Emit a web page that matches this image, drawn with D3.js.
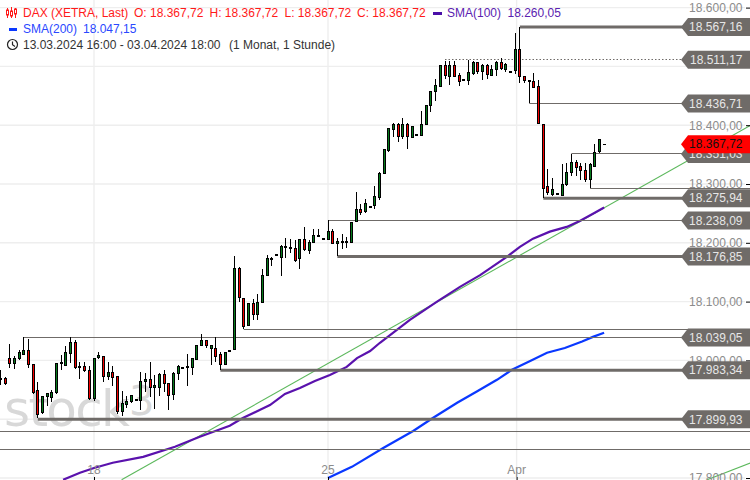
<!DOCTYPE html>
<html><head><meta charset="utf-8">
<script src="https://cdnjs.cloudflare.com/ajax/libs/d3/7.8.5/d3.min.js"></script>
<style>html,body{margin:0;padding:0;background:#fff;overflow:hidden}svg{display:block;font-family:"Liberation Sans",Arial,sans-serif}</style>
</head><body><svg id="c" width="750" height="480"></svg>
<script>
// hourly candles, the first one is 20 bars before the "18" tick
const firstBar = -20;
const opens = [17969,17970,18003,17995,18003,18010,18016,17993,17948,17910,17938,17937,17944,17994,17991,18012,18030,17987,17989,17982,
17935,18004,18007,17973,17979,17972,17913,17925,17929,17932,17932,17963,17967,17954,17954,17976,17960,17942,17977,17987,
17988,17988,18003,18025,18033,18020,18021,18010,17993,18016,18018,18156,18106,18059,18097,18078,18099,18144,18172,18179,
18174,18192,18191,18191,18172,18205,18187,18201,18212,18206,18206,18220,18199,18201,18201,18201,18236,18257,18253,18260,
18262,18277,18318,18357,18393,18401,18381,18401,18380,18384,18384,18401,18433,18457,18467,18502,18484,18502,18485,18476,
18476,18488,18506,18490,18501,18485,18495,18507,18496,18491,18492,18528,18482,18475,18475,18465,18402,18295,18283,18283,
18281,18299,18320,18337,18329,18323,18308,18330,18354,18367.72];
const closes = [17970,17961,17995,18004,18013,18016,17992,17945,17908,17938,17943,17945,17994,17996,18013,18030,17988,17989,17982,17935,
18003,18008,17973,17979,17971,17913,17926,17930,17940,17933,17964,17967,17954,17957,17976,17960,17940,17978,17989,17988,
17989,18004,18026,18033,18024,18025,18008,17993,18013,18017,18156,18106,18059,18097,18078,18099,18145,18173,18174,18180,
18193,18193,18192,18170,18205,18188,18201,18213,18213,18207,18220,18199,18202,18203,18203,18235,18256,18252,18267,18261,
18278,18318,18358,18394,18401,18381,18401,18380,18398,18385,18402,18434,18457,18468,18502,18485,18502,18484,18474,18477,
18490,18506,18491,18501,18485,18495,18507,18496,18504,18492,18528,18482,18475,18476,18465,18402,18294,18284,18291,18284,
18300,18320,18337,18329,18323,18307,18333,18354,18375,18367.72];
const highs = [17984,17972,18028,18007,18018,18040,18037,17993,17963,17940,17943,17949,17995,18009,18024,18039,18035,17998,17998,17990,
18004,18015,18008,17997,17990,17973,17948,17939,17940,17933,17980,17978,17997,17976,17978,17983,17961,17980,17993,17988,
18011,18004,18027,18045,18035,18027,18040,18015,18015,18017,18178,18158,18106,18097,18105,18113,18156,18180,18176,18180,
18197,18208,18206,18205,18207,18227,18205,18224,18224,18207,18238,18223,18208,18215,18210,18236,18286,18266,18274,18261,
18297,18320,18358,18395,18403,18403,18412,18403,18399,18385,18424,18435,18458,18479,18502,18510,18510,18510,18488,18477,
18511,18510,18508,18504,18504,18503,18510,18514,18505,18492,18556,18567,18482,18477,18488,18477,18402,18326,18310,18284,
18334,18335,18351,18341,18335,18335,18335,18368,18376,18367.72];
const lows = [17958,17959,17987,17986,18001,18010,17987,17943,17902,17909,17923,17929,17943,17983,17990,17995,17986,17969,17980,17933,
17931,18002,17964,17966,17957,17908,17905,17919,17927,17932,17915,17947,17938,17917,17940,17946,17915,17933,17966,17987,
17957,17976,18000,18024,18021,17993,17997,17984,17992,18016,18018,18099,18054,18059,18069,18068,18098,18143,18161,18179,
18143,18175,18182,18167,18156,18186,18181,18200,18210,18206,18205,18198,18177,18190,18192,18201,18235,18248,18250,18260,
18258,18272,18318,18354,18380,18372,18376,18360,18378,18384,18384,18401,18423,18441,18467,18479,18469,18483,18467,18476,
18469,18486,18487,18477,18478,18483,18483,18494,18490,18491,18487,18471,18471,18437,18463,18402,18276,18282,18280,18283,
18281,18297,18314,18314,18306,18303,18293,18330,18353,18367.72];

const sma100Bars = [-6.6,-3,0,4,10.5,17.3,22.6,29,31.8,35.5,37.6,40.8,44,47.2,50.4,54,56.2,59,61.1,67.5,73.3,78.2,82.5,88.2,91,93.8,97.4,101,103.8,107,109];
const sma100Vals = [17797,17809,17817,17826,17836,17853,17870,17889,17902,17916,17924,17943,17953,17965,17975,17989,18004,18016,18030,18069,18100,18125,18145,18176,18193,18207,18219,18227,18237,18251,18260];
const sma200Bars = [50,55.1,61.8,68.2,72.4,77.6,81.8,86.1,89.3,93.2,96.8,100.6,104.3,106.6,109];
const sma200Vals = [17800,17819,17851,17880,17902,17928,17947,17967,17984,17999,18013,18021,18032,18040,18047];

const heavyLevels = [18567.16,18275.94,18176.85,17983.34,17899.93];
const heavyStarts = [91,96,52,27,-12];
const thinLevels = [18436.71,18351.03,18293,18238.09,18053,18039.05,17879,17849];
const thinStarts = [93,102,106,50,32,-15,-21,-21];
const dottedLevels = [18511.17];
const dottedStarts = [75];
const taggedLevels = [18567.16,18511.17,18436.71,18351.03,18275.94,18238.09,18176.85,18039.05,17983.34,17899.93];
const lastPrice = 18367.72;

const trendA = {bars:[5.9,141], vals:[17797,18403]};
const trendB = {bars:[131,141], vals:[17797,17828]};

const yGrid = [18600,18500,18400,18300,18200,18100,18000,17900,17800];
const yLabels = [18600,18400,18300,18200,18100,18000,17800];
const xTickBars = [0,50,90.3];
const xTickLabels = ["18","25","Apr"];

const legendRow1 = ["DAX (XETRA, Last)","O: 18.367,72","H: 18.367,72","L: 18.367,72","C: 18.367,72"];
const legendSma100 = ["SMA(100)","18.260,05"];
const legendSma200 = ["SMA(200)","18.047,15"];
const legendRange = ["13.03.2024 16:00 - 03.04.2024 18:00","(1 Monat, 1 Stunde)"];

const W=750,H=480;
const svg=d3.select("#c");
const x=d3.scaleLinear().domain([0,100]).range([94,94+468]);
const y=d3.scaleLinear().domain([17800,18600]).range([478,7.6]);
const de=d3.formatLocale({decimal:",",thousands:".",grouping:[3]});
const fmt=de.format(",.2f");
const crisp=v=>Math.round(v)+0.5;
const GREY="#6f6b68", LABEL="#8c8c8c";

// grid
const grid=svg.append("g").attr("stroke","#eeeeee").attr("stroke-width",1.4);
grid.selectAll("line.h").data(yGrid).join("line").attr("x1",0).attr("x2",745).attr("y1",d=>y(d)).attr("y2",d=>y(d));
grid.selectAll("line.v").data(xTickBars).join("line").attr("x1",d=>x(d)).attr("x2",d=>x(d)).attr("y1",0).attr("y2",H);

// watermark
const wm=svg.append("g").attr("fill","#d8d8d8").attr("font-family","'DejaVu Sans'");
wm.append("text").attr("x",4).attr("y",426).attr("font-size",50).attr("textLength",126).attr("lengthAdjust","spacing").text("stock");
wm.append("text").attr("x",129).attr("y",415).attr("font-size",40).text("3");

// trend lines
[trendA,trendB].forEach(t=>{
  svg.append("line").attr("x1",x(t.bars[0])).attr("y1",y(t.vals[0])).attr("x2",x(t.bars[1])).attr("y2",y(t.vals[1]))
    .attr("stroke","#5cb85c").attr("stroke-width",1.1);
});

// moving averages
const pathOf=(bars,vals)=>d3.line().x((d,i)=>x(bars[i])).y(d=>y(d)).curve(d3.curveLinear)(vals);
svg.append("path").attr("d",pathOf(sma100Bars,sma100Vals)).attr("fill","none").attr("stroke","#5a12ad").attr("stroke-width",2.2);
svg.append("path").attr("d",pathOf(sma200Bars,sma200Vals)).attr("fill","none").attr("stroke","#0a38ff").attr("stroke-width",2.2);

// levels
const lv=svg.append("g").attr("stroke",GREY);
thinLevels.forEach((v,i)=>lv.append("line").attr("x1",Math.max(0,x(thinStarts[i]))).attr("x2",W).attr("y1",crisp(y(v)-.5)).attr("y2",crisp(y(v)-.5)).attr("stroke-width",1));
dottedLevels.forEach((v,i)=>lv.append("line").attr("x1",x(dottedStarts[i])).attr("x2",W).attr("y1",crisp(y(v)-.5)).attr("y2",crisp(y(v)-.5)).attr("stroke-width",1).attr("stroke-dasharray","1.5 2"));
heavyLevels.forEach((v,i)=>lv.append("line").attr("x1",x(heavyStarts[i])).attr("x2",W).attr("y1",y(v)).attr("y2",y(v)).attr("stroke-width",3));

// candles
const bars=opens.map((o,i)=>({i:i+firstBar,o,c:closes[i],h:highs[i],l:lows[i]}));
const cg=svg.append("g");
const cs=cg.selectAll("g").data(bars).join("g");
cs.append("line").attr("x1",d=>crisp(x(d.i)-.5)).attr("x2",d=>crisp(x(d.i)-.5))
  .attr("y1",d=>Math.round(y(d.h))).attr("y2",d=>Math.round(y(d.l))).attr("stroke","#000").attr("stroke-width",1);
cs.append("rect").attr("x",d=>crisp(x(d.i)-.5)-1).attr("width",2)
  .attr("y",d=>crisp(y(Math.max(d.o,d.c))-.5))
  .attr("height",d=>Math.max(0.01,Math.round(Math.abs(y(d.o)-y(d.c)))))
  .attr("fill",d=>d.c>=d.o?"#067a1c":"#f50000").attr("stroke","#000").attr("stroke-width",1);

// axes
const yAxis=d3.axisRight(y).tickValues(yGrid).tickSize(4).tickPadding(0).tickFormat(()=>"");
const ya=svg.append("g").attr("transform","translate(746,0)").call(yAxis);
ya.select(".domain").remove();
ya.selectAll("line").attr("stroke","#000");
svg.append("g").selectAll("text").data(yLabels).join("text")
  .attr("x",742.5).attr("y",d=>y(d)+4.3).attr("text-anchor","end").attr("font-size",12).attr("fill",LABEL).text(d=>fmt(d));

const xAxis=d3.axisBottom(x).tickValues(xTickBars).tickSize(3).tickFormat(()=>"");
const xa=svg.append("g").attr("transform","translate(0,477)").call(xAxis);
xa.select(".domain").remove();
xa.selectAll("line").attr("stroke","#000");
svg.append("g").selectAll("text").data(xTickBars).join("text")
  .attr("x",d=>x(d)).attr("y",474).attr("text-anchor","middle").attr("font-size",12).attr("fill",LABEL).text((d,i)=>xTickLabels[i]);

// tags
function tag(v,fill,color){
  const cy=y(v), g=svg.append("g");
  g.append("polygon").attr("points",[[681,cy],[688,cy-9],[W,cy-9],[W,cy+9],[688,cy+9]].join(" ")).attr("fill",fill);
  g.append("text").attr("x",742.5).attr("y",cy+4.3).attr("text-anchor","end").attr("font-size",12).attr("fill",color).text(fmt(v));
}
taggedLevels.forEach(v=>tag(v,GREY,"#e6e6e6"));
tag(lastPrice,"#ff0000","#111");

// legend
const RED="#ff1a1a",PUR="#5b22b0",BLU="#2a48ff",TXT="#333";
const txt=(t,px,py,c)=>svg.append("text").attr("x",px).attr("y",py).attr("font-size",12).attr("fill",c).text(t);
[23,134,209.5,284.5,357].forEach((px,i)=>txt(legendRow1[i],px,17,RED));
txt(legendSma100[0],447,17,PUR); txt(legendSma100[1],507.5,17,PUR);
txt(legendSma200[0],23,33,BLU); txt(legendSma200[1],83,33,BLU);
txt(legendRange[0],23,49,TXT); txt(legendRange[1],229,49,TXT);
svg.append("rect").attr("x",433).attr("y",12).attr("width",9).attr("height",3).attr("fill","#4a0fa8");
svg.append("rect").attr("x",9).attr("y",28).attr("width",8).attr("height",3).attr("fill","#0a38ff");
// candle icon
const ic=svg.append("g").attr("stroke",RED).attr("fill","#fff").attr("stroke-width",1);
[[7.5,8,18,10,15],[11.5,7,18,11,16],[15.5,8,18,9,14]].forEach(a=>{
  ic.append("line").attr("x1",a[0]).attr("x2",a[0]).attr("y1",a[1]).attr("y2",a[2]);
  ic.append("rect").attr("x",a[0]-1).attr("width",2).attr("y",a[3]).attr("height",a[4]-a[3]);
});
// clock icon
const ck=svg.append("g").attr("fill","none").attr("stroke","#222").attr("stroke-width",1.2);
ck.append("circle").attr("cx",12.5).attr("cy",44.5).attr("r",5);
ck.append("path").attr("d","M12.5 41.5V44.8L15 46.5");
</script></body></html>
